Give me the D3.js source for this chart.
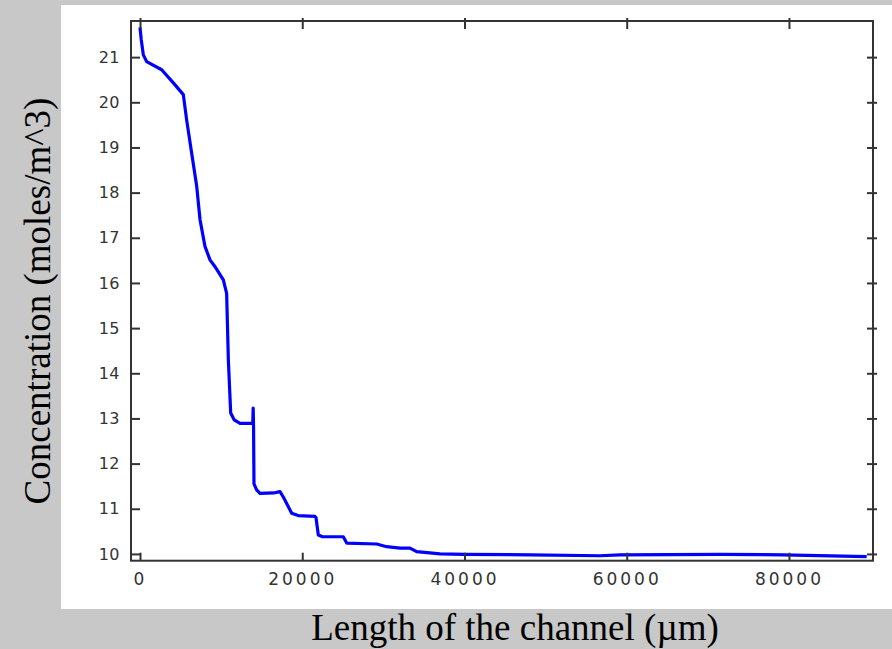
<!DOCTYPE html>
<html>
<head>
<meta charset="utf-8">
<script src="https://cdn.jsdelivr.net/npm/d3@7"></script>
<style>
  body { margin: 0; background: #c8c8c8; }
  svg { display: block; }
</style>
</head>
<body>
<svg id="chart"></svg>
<script>
// Values (length in µm, concentration in moles/m^3)
const lengthUm = [0, 150, 410, 820, 2670, 4110, 5340, 5750, 6370, 6990, 7400, 8010, 8630, 9250,
    10270, 10680, 10890, 11180, 11600, 12330, 13770, 13900, 13950, 14000, 14050, 14380, 14790,
    16500, 17260, 17700, 18700, 19500, 21570, 21700, 21980, 22500, 25060, 25480, 29180, 30410,
    32050, 33280, 34110, 36980, 40000, 48080, 56700, 59170, 71500, 79260, 89580];
const concentration = [21.66, 21.39, 21.05, 20.90, 20.72, 20.43, 20.17, 19.61, 18.87, 18.14, 17.40, 16.81, 16.51, 16.36,
    16.07, 15.77, 14.30, 13.12, 12.97, 12.89, 12.89, 12.89, 13.23, 12.80, 11.55, 11.42, 11.34,
    11.35, 11.38, 11.25, 10.90, 10.85, 10.83, 10.80, 10.42, 10.38, 10.38, 10.24, 10.22, 10.16,
    10.13, 10.13, 10.05, 10.00, 9.99, 9.98, 9.96, 9.98, 9.99, 9.98, 9.94];
const xTicks = [0, 20000, 40000, 60000, 80000];
const yTicks = [10, 11, 12, 13, 14, 15, 16, 17, 18, 19, 20, 21];

const width = 892, height = 649;
const plot = { left: 131, right: 873, top: 21, bottom: 560.7 };

const svg = d3.select("#chart")
    .attr("width", width)
    .attr("height", height);

// grey page with the white panel of the plot
svg.append("rect")
    .attr("width", width).attr("height", height)
    .attr("fill", "#c8c8c8");
svg.append("rect")
    .attr("x", 61).attr("y", 5)
    .attr("width", width - 61).attr("height", 604)
    .attr("fill", "#ffffff");

const x = d3.scaleLinear()
    .domain([-1110, 90360])
    .range([plot.left, plot.right]);

const y = d3.scaleLinear()
    .domain([9.85, 21.80])
    .range([plot.bottom, plot.top]);

// concentration curve
const points = lengthUm.map((d, i) => [d, concentration[i]]);
const line = d3.line()
    .x(d => x(d[0]))
    .y(d => y(d[1]));

svg.append("path")
    .datum(points)
    .attr("fill", "none")
    .attr("stroke", "#0000ff")
    .attr("stroke-width", 3.2)
    .attr("stroke-linejoin", "round")
    .attr("d", line);

// frame
svg.append("rect")
    .attr("x", plot.left).attr("y", plot.top)
    .attr("width", plot.right - plot.left)
    .attr("height", plot.bottom - plot.top)
    .attr("fill", "none")
    .attr("stroke", "#333")
    .attr("stroke-width", 2);

function styleAxis(g) {
    g.select(".domain").remove();
    g.selectAll(".tick line").attr("stroke", "#333").attr("stroke-width", 2);
    g.selectAll("text")
        .attr("fill", "#333")
        .style("font-family", "'DejaVu Sans', sans-serif");
}

// bottom axis with labels, ticks pointing inwards
const xAxis = svg.append("g")
    .attr("transform", `translate(0,${plot.bottom})`)
    .call(d3.axisBottom(x).tickValues(xTicks).tickSize(-8).tickPadding(12).tickFormat(d3.format("d")))
    .call(styleAxis);
xAxis.selectAll("text")
    .style("font-size", "17px")
    .style("letter-spacing", "3px");

// left axis with labels
const yAxis = svg.append("g")
    .attr("transform", `translate(${plot.left},0)`)
    .call(d3.axisLeft(y).tickValues(yTicks).tickSize(-9).tickPadding(11).tickFormat(d3.format("d")))
    .call(styleAxis);
yAxis.selectAll("text")
    .style("font-size", "16px")
    .style("letter-spacing", "0.5px");

// top axis, ticks crossing the frame
svg.append("g")
    .attr("transform", `translate(0,${plot.top})`)
    .call(d3.axisTop(x).tickValues(xTicks).tickSize(-8).tickFormat(""))
    .call(styleAxis)
    .selectAll(".tick line").attr("y1", -3);

// right axis, ticks crossing the frame
svg.append("g")
    .attr("transform", `translate(${plot.right},0)`)
    .call(d3.axisRight(y).tickValues(yTicks).tickSize(-6).tickFormat(""))
    .call(styleAxis)
    .selectAll(".tick line").attr("x1", 4);

// axis titles
svg.append("text")
    .attr("x", 515)
    .attr("y", 640)
    .attr("text-anchor", "middle")
    .style("font-family", "'Liberation Serif', 'Times New Roman', serif")
    .style("font-size", "37px")
    .attr("fill", "#000")
    .text("Length of the channel (µm)");

svg.append("text")
    .attr("transform", "translate(50,301) rotate(-90)")
    .attr("text-anchor", "middle")
    .style("font-family", "'Liberation Serif', 'Times New Roman', serif")
    .style("font-size", "37px")
    .attr("fill", "#000")
    .text("Concentration (moles/m^3)");
</script>
</body>
</html>
